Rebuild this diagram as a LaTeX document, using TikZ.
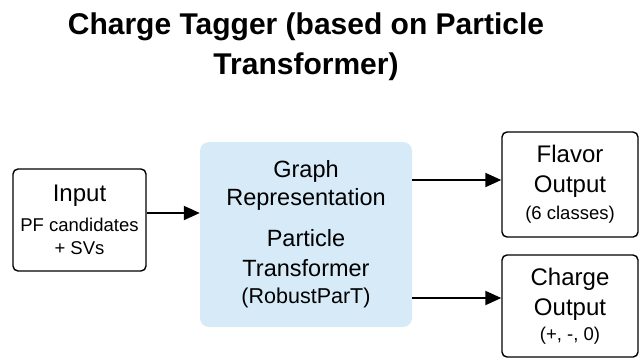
\documentclass[tikz,border=0pt]{standalone}
\usepackage{fontspec}
\setmainfont{Liberation Sans}
\usetikzlibrary{arrows.meta, positioning, calc}
\definecolor{partblue}{RGB}{214,234,247}

\begin{document}
\begin{tikzpicture}[x=1pt, y=-1pt, >={Triangle[length=16pt, width=14pt]},
    box/.style={draw, line width=1.4pt, rounded corners=5pt, align=center, inner sep=0pt},
    small/.style={font=\fontsize{18.5}{23}\selectfont},
    link/.style={->, line width=2pt}]
    \useasboundingbox (0,0) rectangle (639,359);

    \node[font=\fontsize{30}{40}\selectfont\bfseries, align=center] (title) at (306,47) {Charge Tagger (based on Particle\\Transformer)};

    \node[box, minimum width=133pt, minimum height=102pt, font=\fontsize{24}{23}\selectfont] (input) at (79.5,220) {Input\\[7pt]{\fontsize{18.5}{23}\selectfont PF candidates}\\{\fontsize{18.5}{23}\selectfont + SVs}};
    \node[fill=partblue, rounded corners=9pt, minimum width=212pt, minimum height=185pt, align=center, inner sep=0pt, font=\fontsize{23.5}{28}\selectfont] (part) at (306,234.5) {Graph\\Representation\\[13pt]Particle\\[2pt]Transformer\\[-1pt]{\fontsize{21.5}{27}\selectfont (RobustParT)}};
    \node[box, minimum width=136pt, minimum height=105pt, font=\fontsize{24}{27}\selectfont] (flavor) at (570,184.5) {Flavor\\[3pt]Output\\{\fontsize{18.5}{27}\selectfont (6 classes)}};
    \node[box, minimum width=136pt, minimum height=102pt, font=\fontsize{24}{25}\selectfont] (charge) at (570,306) {Charge\\[5pt]Output\\{\fontsize{18.5}{25}\selectfont (+, -, 0)}};

    \draw[link] ([yshift=7pt]input.east) -- ([yshift=7pt]input.east -| part.west);
    \draw[link] ([yshift=4.5pt]flavor.west -| part.east) -- ([yshift=4.5pt]flavor.west);
    \draw[link] ([yshift=8pt]charge.west -| part.east) -- ([yshift=8pt]charge.west);
\end{tikzpicture}
\end{document}
